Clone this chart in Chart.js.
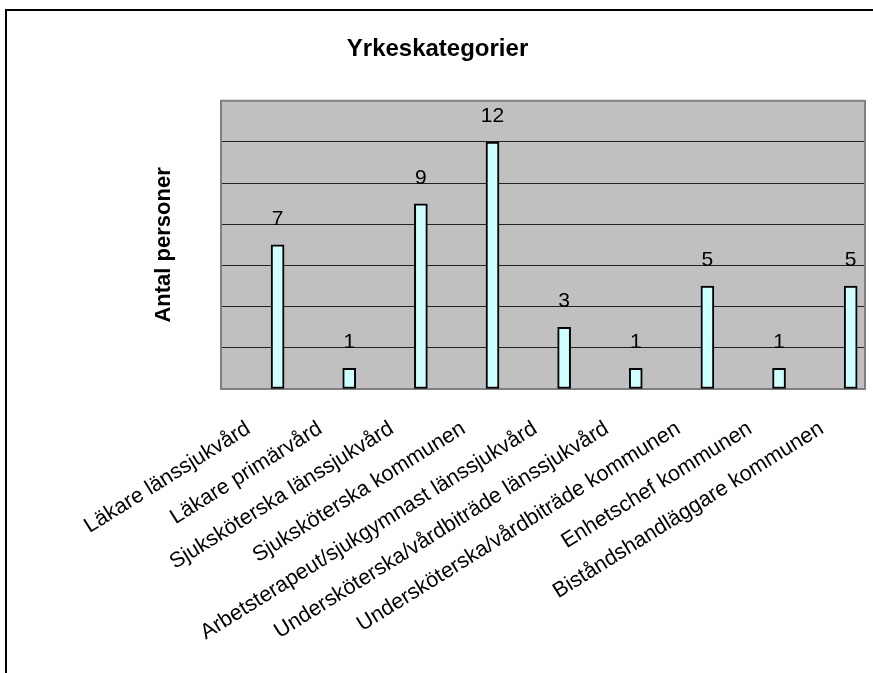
<!DOCTYPE html>
<html>
<head>
<meta charset="utf-8">
<script src="https://cdn.jsdelivr.net/npm/chart.js@4.4.0/dist/chart.umd.min.js"></script>
<style>
  body { margin: 0; background: #fff; overflow: hidden; }
  #frame { position: absolute; left: 5px; top: 9px; width: 900px; height: 700px; border: 2px solid #000; }
  #chartContainer { position: absolute; left: 0; top: 0; }
</style>
</head>
<body>
<div id="frame"></div>
<canvas id="chartContainer" width="873" height="673"></canvas>
<script>
const categories = [
    'Läkare länssjukvård',
    'Läkare primärvård',
    'Sjuksköterska länssjukvård',
    'Sjuksköterska kommunen',
    'Arbetsterapeut/sjukgymnast länssjukvård',
    'Undersköterska/vårdbiträde länssjukvård',
    'Undersköterska/vårdbiträde kommunen',
    'Enhetschef kommunen',
    'Biståndshandläggare kommunen'
];
const values = [7, 1, 9, 12, 3, 1, 5, 1, 5];
const chartTitle = 'Yrkeskategorier';
const yTitle = 'Antal personer';

const fontFam = '"Liberation Sans", Arial, sans-serif';

// grey plot background + frame
const plotBg = {
    id: 'plotBg',
    beforeDraw(chart) {
        const a = chart.chartArea, ctx = chart.ctx;
        ctx.save();
        ctx.fillStyle = '#c0c0c0';
        ctx.fillRect(a.left, a.top, a.right - a.left, a.bottom - a.top);
        ctx.restore();
    },
    beforeDatasetsDraw(chart) {
        const a = chart.chartArea, ctx = chart.ctx;
        ctx.save();
        ctx.strokeStyle = '#808080';
        ctx.lineWidth = 2;
        ctx.strokeRect(a.left, a.top, a.right - a.left, a.bottom - a.top);
        ctx.restore();
    }
};

// value labels above bars
const barLabels = {
    id: 'barLabels',
    afterDatasetsDraw(chart) {
        const ctx = chart.ctx;
        ctx.save();
        ctx.font = '21px ' + fontFam;
        ctx.fillStyle = '#000';
        ctx.textAlign = 'center';
        ctx.textBaseline = 'alphabetic';
        chart.getDatasetMeta(0).data.forEach(function (bar, i) {
            ctx.fillText(String(values[i]), bar.x, bar.y - 20);
        });
        ctx.restore();
    }
};

const data = {
    datasets: [{
        label: yTitle,
        data: values.map(function (v, i) { return { x: i, y: v }; }),
        backgroundColor: '#ccffff',
        borderColor: '#000',
        borderWidth: 2,
        borderSkipped: false,
        barThickness: 13
    }]
};

const config = {
    type: 'bar',
    data: data,
    options: {
        responsive: false,
        animation: false,
        devicePixelRatio: 1,
        layout: { padding: { left: 10, right: 8, top: 20, bottom: 0 } },
        plugins: {
            legend: { display: false },
            tooltip: { enabled: false },
            title: {
                display: true,
                text: chartTitle,
                color: '#000',
                font: { family: fontFam, size: 24, weight: 'bold' },
                padding: { top: 15, bottom: 37 }
            }
        },
        scales: {
            x: {
                type: 'linear',
                offset: false,
                min: -0.79,
                max: 8.2,
                grid: { display: false },
                border: { display: false },
                afterBuildTicks: function (axis) {
                    axis.ticks = categories.map(function (c, i) { return { value: i }; });
                },
                afterFit: function (axis) {
                    axis.height = 284;
                    axis.paddingLeft = 0;
                    axis.paddingRight = 0;
                },
                ticks: {
                    autoSkip: false,
                    minRotation: 32,
                    maxRotation: 32,
                    padding: 19,
                    labelOffset: -29,
                    color: '#000',
                    font: { family: fontFam, size: 21.5 },
                    callback: function (v) { return categories[v]; }
                }
            },
            y: {
                min: 0,
                max: 14,
                ticks: { display: false, stepSize: 2 },
                grid: { color: '#222', lineWidth: 1, drawTicks: false },
                border: { display: false },
                afterFit: function (axis) { axis.width = 211; },
                title: {
                    display: true,
                    text: yTitle,
                    color: '#000',
                    padding: { top: 141, bottom: 0 },
                    font: { family: fontFam, size: 22, weight: 'bold' }
                }
            }
        }
    },
    plugins: [plotBg, barLabels]
};

var myChart = new Chart(document.getElementById('chartContainer'), config);
</script>
</body>
</html>
